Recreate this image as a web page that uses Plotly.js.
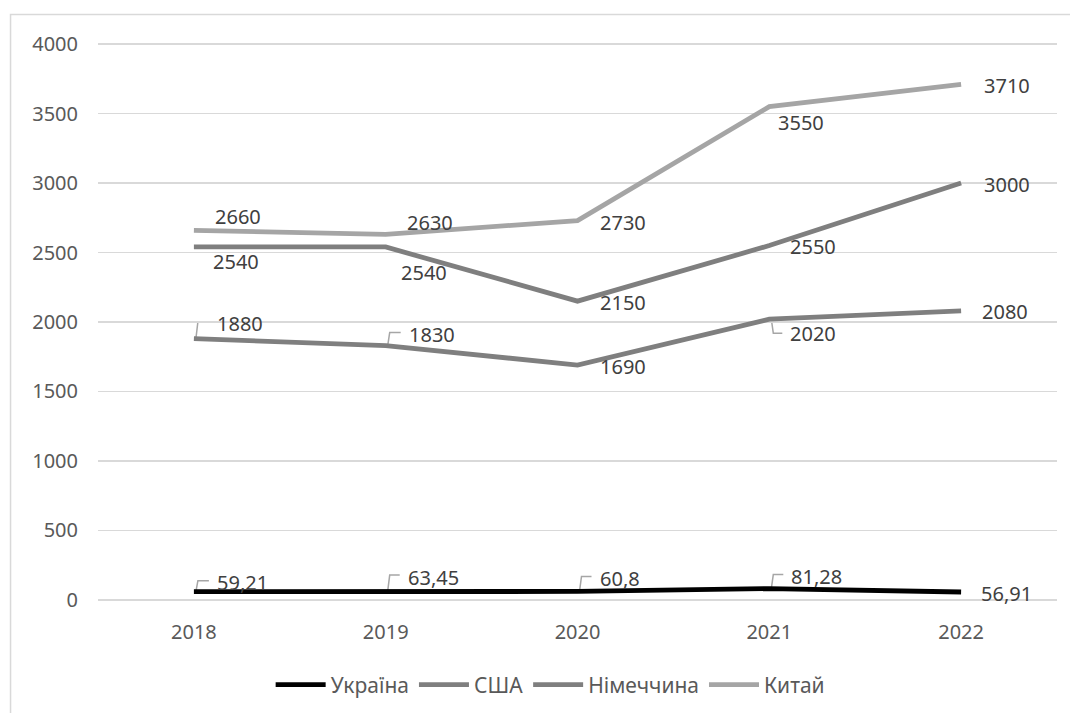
<!DOCTYPE html>
<html>
<head>
<meta charset="utf-8">
<script src="https://cdn.plot.ly/plotly-3.0.1.min.js"></script>
<style>
  html, body { margin: 0; padding: 0; background: #ffffff; }
  #chart { width: 1070px; height: 713px; }
</style>
</head>
<body>
<div id="chart"></div>
<script>
// Categories and series values
const years = [2018, 2019, 2020, 2021, 2022];
const seriesNames = ['Україна', 'США', 'Німеччина', 'Китай'];
const ukraine = [59.21, 63.45, 60.8, 81.28, 56.91];
const usa = [2540, 2540, 2150, 2550, 3000];
const germany = [1880, 1830, 1690, 2020, 2080];
const china = [2660, 2630, 2730, 3550, 3710];

// Styling per series
const colors = ['#000000', '#7f7f7f', '#7f7f7f', '#a5a5a5'];
const series = [ukraine, usa, germany, china];

// Data label placement: [gap to text px, vertical offset px (up), leader line]
const labelPlacement = [
  [[24, 9, true], [23, 14, true], [23, 13, true], [23, 12, true], [21, -1, false]],
  [[20, -15, false], [16, -26, false], [23, -1, false], [22, -1, false], [24, -1, false]],
  [[24, 15, true], [24, 11, true], [23, -1, false], [22, -14, true], [22, -1, false]],
  [[22, 14, false], [22, 12, false], [23, -2, false], [10, -16, false], [24, -1, false]]
];

const fontFamily = '"Noto Sans", "Open Sans", sans-serif';
const fmt = v => String(v).replace('.', ',');

const traces = series.map((vals, i) => ({
  type: 'scatter',
  mode: 'lines',
  name: seriesNames[i],
  x: years,
  y: vals,
  line: { color: colors[i], width: 4.8 },
  hoverinfo: 'x+y+name'
}));

const annotations = [];
const shapes = [];
series.forEach((vals, i) => {
  vals.forEach((v, j) => {
    const [dx, dy, leader] = labelPlacement[i][j];
    annotations.push({
      x: years[j], y: v, xref: 'x', yref: 'y',
      text: fmt(v),
      showarrow: false,
      xanchor: 'left', yanchor: 'middle',
      xshift: dx - 3, yshift: dy,
      font: { family: fontFamily, size: 20, color: '#404040' }
    });
    if (leader) {
      // L-shaped leader line from the point to its moved label
      const h = dy > 0 ? dy + 2 : dy;
      shapes.push({
        type: 'path', layer: 'below',
        xref: 'x', yref: 'y',
        xsizemode: 'pixel', ysizemode: 'pixel',
        xanchor: years[j], yanchor: v,
        path: 'M 2 0 L 4 ' + h + ' L ' + (dx - 9) + ' ' + h,
        line: { color: '#a6a6a6', width: 1.5 }
      });
    }
  });
});

// Chart frame (left and top edges visible)
shapes.push({
  type: 'path', xref: 'paper', yref: 'paper', layer: 'above',
  path: 'M -0.0912 -0.5 L -0.0912 1.049 L 1.2 1.049',
  line: { color: '#d9d9d9', width: 1.5 }
});

const layout = {
  width: 1070,
  height: 713,
  margin: { l: 98, r: 13, t: 42, b: 111, autoexpand: false },
  paper_bgcolor: '#ffffff',
  plot_bgcolor: '#ffffff',
  font: { family: fontFamily, size: 20, color: '#595959' },
  showlegend: true,
  legend: {
    orientation: 'h',
    x: 0.472, xanchor: 'center',
    y: -0.148, yanchor: 'middle',
    font: { family: fontFamily, size: 21, color: '#595959' },
    itemwidth: 50,
    traceorder: 'normal'
  },
  xaxis: {
    type: 'linear',
    range: [2017.5, 2022.5],
    tickvals: years,
    ticktext: years.map(String),
    showgrid: false,
    zeroline: false,
    showline: false,
    ticks: '',
    ticklabelstandoff: 16,
    tickfont: { family: fontFamily, size: 20, color: '#595959' }
  },
  yaxis: {
    range: [-15, 4015],
    tickvals: [0, 500, 1000, 1500, 2000, 2500, 3000, 3500, 4000],
    showgrid: true,
    gridcolor: '#d9d9d9',
    gridwidth: 1.3,
    zeroline: false,
    showline: false,
    ticks: '',
    ticklabelstandoff: 19,
    tickfont: { family: fontFamily, size: 20, color: '#595959' }
  },
  annotations: annotations,
  shapes: shapes
};

Plotly.newPlot('chart', traces, layout, { displayModeBar: false, staticPlot: true });
</script>
</body>
</html>
